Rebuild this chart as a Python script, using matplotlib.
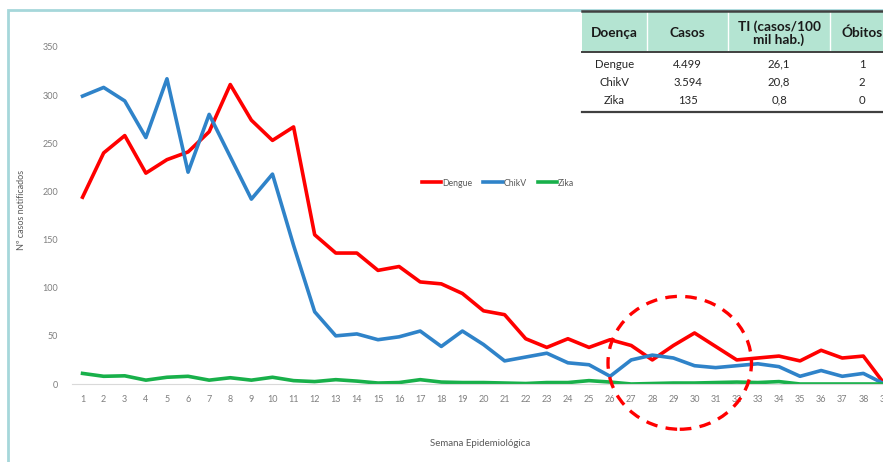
import matplotlib.pyplot as plt
from matplotlib.patches import Ellipse, Rectangle
from matplotlib.lines import Line2D

plt.rcParams['font.family'] = ['Lato', 'DejaVu Sans']

semanas = list(range(1, 40))
dengue = [194, 240, 258, 219, 233, 241, 262, 311, 274, 253, 267, 155, 136, 136, 118, 122,
          106, 104, 94, 76, 72, 47, 38, 47, 38, 46, 40, 25, 40, 53, 39, 25, 27, 29, 24, 35,
          27, 29, 0]
chikv = [299, 308, 294, 256, 317, 220, 280, 236, 192, 218, 144, 75, 50, 52, 46, 49, 55, 39,
         55, 41, 24, 28, 32, 22, 20, 8, 25, 30, 27, 19, 17, 19, 21, 18, 8, 14, 8, 11, 0]
zika = [11, 8, 8.5, 4, 7, 8, 4, 6.5, 4, 7, 3.5, 2.5, 4.5, 3, 1, 1.5, 4.5, 2, 1.5, 1.5, 1,
        0.5, 1.5, 1.5, 3.5, 2, 0, 0.5, 1, 1, 1.5, 2, 1.5, 2.5, 0, 0, 0, 0, 0]
series_names = ['Dengue', 'ChikV', 'Zika']
series_colors = ['#ff0000', '#2f83c9', '#18b04a']

tab_header = ['Doença', 'Casos', 'TI (casos/100\nmil hab.)', 'Óbitos']
tab_rows = [['Dengue', '4.499', '26,1', '1'],
            ['ChikV', '3.594', '20,8', '2'],
            ['Zika', '135', '0,8', '0']]

W, H = 883, 462
fig = plt.figure(figsize=(W / 100, H / 100), dpi=100)

# chart border (light teal)
fig.patches.append(Rectangle((8 / W, -0.1), 1.2, (H - 10) / H + 0.1, transform=fig.transFigure,
                             fill=False, edgecolor='#a6d7da', linewidth=2))

ax = fig.add_axes([72 / W, 78 / H, (895 - 72) / W, 337 / H])
for name, vals, col in zip(series_names, [dengue, chikv, zika], series_colors):
    ax.plot(semanas, vals, color=col, linewidth=2.6, solid_joinstyle='round', label=name)

ax.set_xlim(0.5, 39.5)
ax.set_ylim(0, 350)
ax.set_yticks(range(0, 351, 50))
ax.set_xticks(semanas)
for s in ['top', 'right', 'left']:
    ax.spines[s].set_visible(False)
ax.spines['bottom'].set_color('#d9d9d9')
ax.tick_params(axis='both', length=0, labelsize=6.5, labelcolor='#7f7f7f')
ax.tick_params(axis='y', pad=10)
ax.tick_params(axis='x', pad=8)
ax.patch.set_alpha(0)

fig.text(22 / W, 1 - 210 / H, 'Nº casos notificados', rotation=90, ha='center', va='center',
         fontsize=6.5, color='#595959')
fig.text(480 / W, 1 - 443 / H, 'Semana Epidemiológica', ha='center', va='center',
         fontsize=7, color='#595959')

leg = ax.legend(loc='center', bbox_to_anchor=(498 / W, 1 - 183 / H), bbox_transform=fig.transFigure,
                ncol=3, frameon=False, fontsize=6.3, handlelength=2.2, handletextpad=0.1,
                columnspacing=1.3)
for t in leg.get_texts():
    t.set_color('#595959')

# dashed highlight circle
ax.add_patch(Ellipse((29.3, 22), 6.8, 138, fill=False, edgecolor='#ff0000', linewidth=2.4,
                     linestyle=(0, (3.5, 2.5)), clip_on=False, zorder=5))

# summary table
col_edges = [582, 647, 728, 830, 930]
top, head_bot, bot = 11, 52, 112
fig.patches.append(Rectangle((col_edges[0] / W, 1 - head_bot / H), (W - col_edges[0]) / W,
                             (head_bot - top) / H, transform=fig.transFigure,
                             facecolor='#b4e4d2', edgecolor='none'))
for xe in col_edges[1:-1]:
    fig.add_artist(Line2D([xe / W, xe / W], [1 - head_bot / H, 1 - top / H], color='white',
                          linewidth=1, transform=fig.transFigure))
for yl, lw in [(top, 1.8), (head_bot, 1.4), (bot, 1.6)]:
    fig.add_artist(Line2D([col_edges[0] / W, 1], [1 - yl / H, 1 - yl / H], color='#404040',
                          linewidth=lw, transform=fig.transFigure))
centers = [(col_edges[i] + col_edges[i + 1]) / 2 for i in range(4)]
centers[3] = 862
for cx, txt in zip(centers, tab_header):
    fig.text(cx / W, 1 - 33 / H, txt, ha='center', va='center', fontsize=9.8, fontweight='bold',
             color='#1a1a1a', linespacing=1.05)
for r, row in enumerate(tab_rows):
    for cx, txt in zip(centers, row):
        fig.text(cx / W, 1 - (64 + 18 * r) / H, txt, ha='center', va='center', fontsize=8.2,
                 color='#262626')

fig.savefig('out.png', dpi=100)
